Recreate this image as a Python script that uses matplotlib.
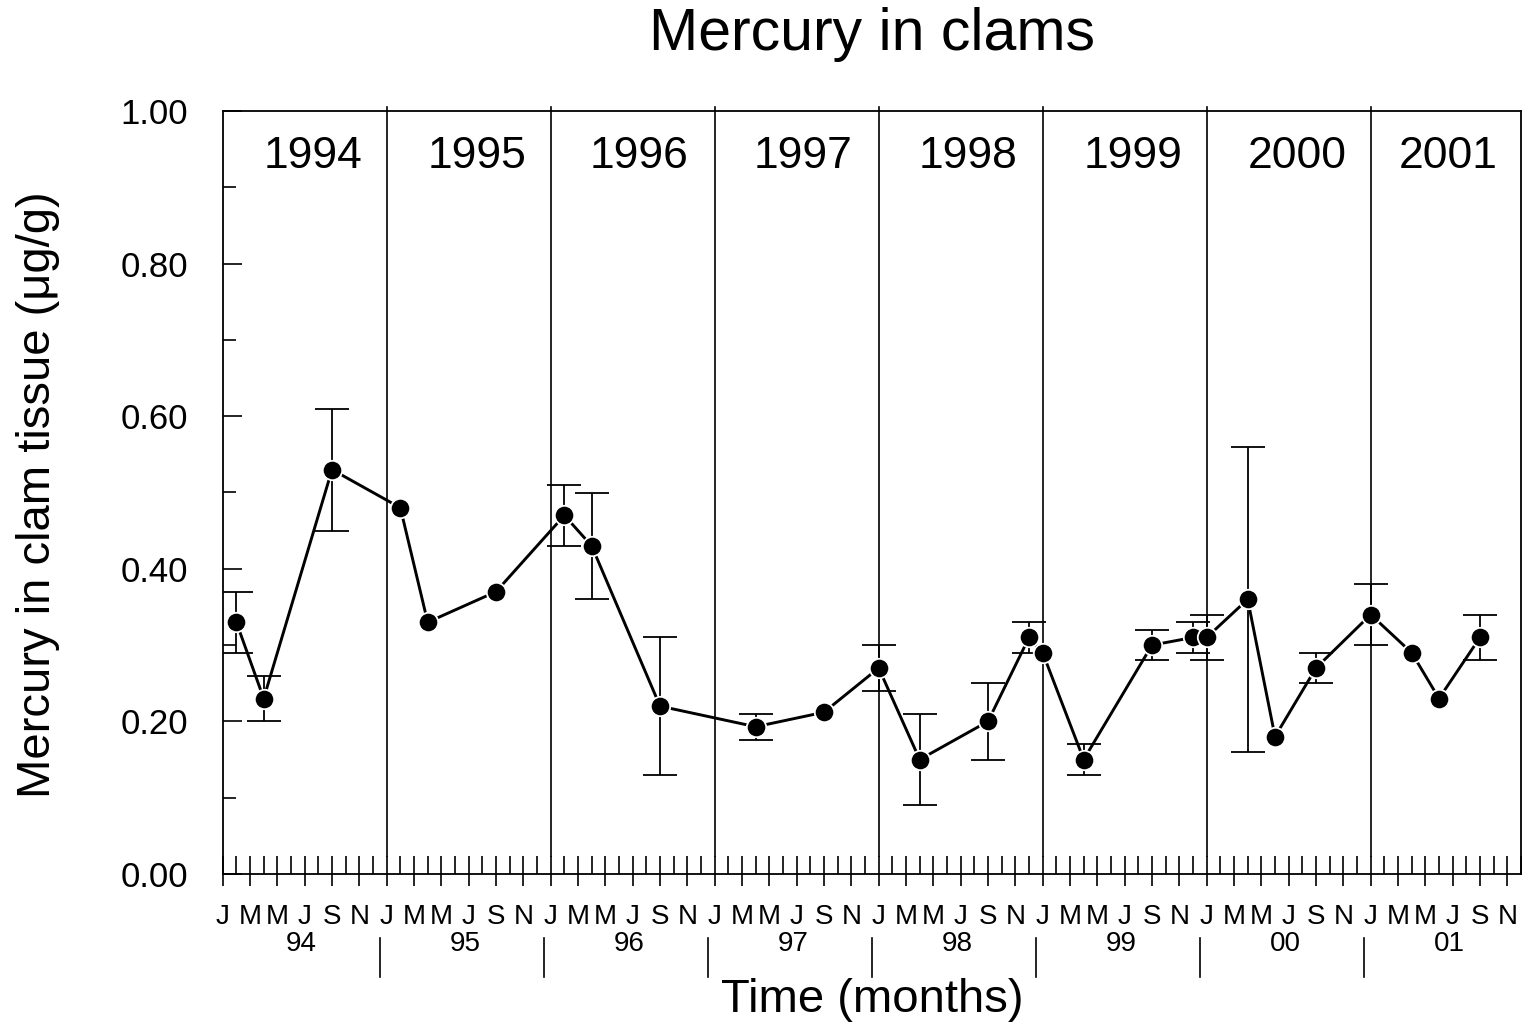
import numpy as np
import matplotlib
matplotlib.use("Agg")
import matplotlib.pyplot as plt
from matplotlib.ticker import FixedLocator, FixedFormatter, MultipleLocator, FormatStrFormatter
import matplotlib.transforms as mtransforms

plt.rcParams['font.family'] = ['Liberation Sans', 'DejaVu Sans']

# ---- data (months counted from Jan 1994 = 0) ----
months = [1, 3, 8, 13, 15, 20, 25, 27, 32, 39, 44, 48, 51, 56, 59, 60, 63, 68, 71, 72, 75, 77, 80, 84, 87, 89, 92]
mercury = [0.33, 0.23, 0.53, 0.48, 0.33, 0.37, 0.47, 0.43, 0.22, 0.193, 0.212, 0.27, 0.15, 0.20, 0.31, 0.29,
           0.15, 0.30, 0.31, 0.31, 0.36, 0.18, 0.27, 0.34, 0.29, 0.23, 0.31]
error = [0.04, 0.03, 0.08, 0, 0, 0, 0.04, 0.07, 0.09, 0.017, 0, 0.03, 0.06, 0.05, 0.02, 0,
         0.02, 0.02, 0.02, 0.03, 0.20, 0, 0.02, 0.04, 0, 0, 0.03]
years = ['1994', '1995', '1996', '1997', '1998', '1999', '2000', '2001']
year_label_pos = [6.6, 18.6, 30.5, 42.5, 54.5, 66.6, 78.6, 89.7]
short_years = ['94', '95', '96', '97', '98', '99', '00', '01']
month_letters = ['J', 'M', 'M', 'J', 'S', 'N']

W, H = 1531, 1029
fig = plt.figure(figsize=(W / 100, H / 100), dpi=100)
ax = fig.add_axes([222.7 / W, 1 - 874 / H, (1521 - 222.7) / W, (874 - 111) / H])

m = np.array(months, dtype=float)
v = np.array(mercury)
e = np.array(error)
mask = e > 0

ax.errorbar(m[mask], v[mask], yerr=e[mask], fmt='none', ecolor='black', elinewidth=1.3,
            capsize=12, capthick=1.3, zorder=2)
ax.plot(m, v, color='black', lw=2.1, zorder=3)
ax.plot(m, v, linestyle='none', marker='o', markersize=14, markerfacecolor='black',
        markeredgecolor='white', markeredgewidth=1.3, zorder=4)

ax.set_xlim(0, 95)
ax.set_ylim(0, 1.0)

# year separator lines inside plot
for k in range(1, 8):
    ax.plot([12 * k, 12 * k], [0.0236, 1.005], color='black', lw=1.2, clip_on=False, zorder=1)

# year labels inside
for x, y in zip(year_label_pos, years):
    ax.text(x, 0.94, y, ha='center', va='center', fontsize=32)

# x ticks
major = list(range(0, 96, 2))
ax.xaxis.set_major_locator(FixedLocator(major))
ax.xaxis.set_major_formatter(FixedFormatter([month_letters[(i // 2) % 6] for i in major]))
ax.xaxis.set_minor_locator(FixedLocator(list(range(0, 96))))
ax.xaxis.remove_overlapping_locs = False
ax.tick_params(axis='x', which='major', direction='out', length=8.5, width=1.2, labelsize=20, pad=13)
ax.tick_params(axis='x', which='minor', direction='in', length=13, width=1.2)

# y ticks
ax.yaxis.set_major_locator(MultipleLocator(0.2))
ax.yaxis.set_minor_locator(MultipleLocator(0.1))
ax.yaxis.set_major_formatter(FormatStrFormatter('%.2f'))
ax.tick_params(axis='y', which='major', direction='in', length=14, width=1.2, labelsize=25, pad=25)
ax.tick_params(axis='y', which='minor', direction='in', length=9.5, width=1.2)

for s in ax.spines.values():
    s.set_linewidth(1.3)

# year labels below and separators
trans = mtransforms.blended_transform_factory(ax.transData, ax.transAxes)
for k, yl in enumerate(short_years):
    ax.text(12 * k + 5.75, -(944 - 874) / 763, yl, transform=trans, ha='center', va='center', fontsize=20)
for k in range(1, 8):
    ax.plot([12 * k - 0.5, 12 * k - 0.5], [-(938 - 874) / 763, -(977 - 874) / 763], transform=trans,
            color='black', lw=1.2, clip_on=False)

fig.text(872 / W, 1 - 1000 / H, 'Time (months)', ha='center', va='center', fontsize=34)
fig.text(38 / W, 1 - 495 / H, 'Mercury in clam tissue (μg/g)', ha='center', va='center', rotation=90, fontsize=34)
fig.text(872 / W, 1 - 35 / H, 'Mercury in clams', ha='center', va='center', fontsize=42.5)

fig.savefig('out.png', dpi=100)
